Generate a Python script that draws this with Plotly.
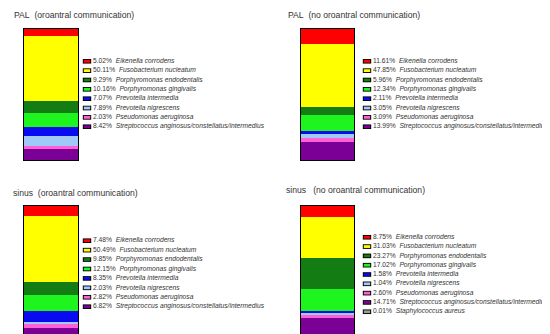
import plotly.graph_objects as go

W, H = 550, 334

species = ["Eikenella corrodens", "Fusobacterium nucleatum", "Porphyromonas endodentalis",
           "Porphyromonas gingivalis", "Prevotella intermedia", "Prevotella nigrescens",
           "Pseudomonas aeruginosa", "Streptococcus anginosus/constellatus/intermedius",
           "Staphylococcus aureus"]
colors = ["#FF0000", "#FFFF00", "#137D13", "#1EF51E", "#0A0AF0", "#A0C8F8",
          "#FF5FD7", "#7A0096", "#9A9A9A"]

titles = ["PAL\u00a0\u00a0(oroantral communication)",
          "PAL\u00a0\u00a0(no oroantral communication)",
          "sinus\u00a0\u00a0(oroantral communication)",
          "sinus\u00a0\u00a0\u00a0(no oroantral communication)"]

pal_oac = [5.02, 50.11, 9.29, 10.16, 7.07, 7.89, 2.03, 8.42]
pal_no = [11.61, 47.85, 5.96, 12.34, 2.11, 3.05, 3.09, 13.99]
sinus_oac = [7.48, 50.49, 9.85, 12.15, 8.35, 2.03, 2.82, 6.82]
sinus_no = [8.75, 31.03, 23.27, 17.02, 1.58, 1.04, 2.60, 14.71, 0.01]

panels = [pal_oac, pal_no, sinus_oac, sinus_no]

# layout geometry in pixels
bar_x = [(16, 70), (293, 346), (16, 70), (293, 346)]
bar_y = [(21, 152), (21, 152), (198, 329), (198, 329)]
leg_x = [(75, 275), (355, 550), (75, 275), (355, 550)]
leg_y = [(48.6, 123.4), (48.6, 123.4), (228.0, 303.4), (224.6, 308.4)]
title_pos = [(4, 7), (278, 7), (3, 185), (276, 182)]

FONT = "Liberation Sans, Arial, sans-serif"
TXT = "#333333"

fig = go.Figure()
layout = {}


def xd(a, b):
    return [a / W, b / W]


def yd(a, b):
    return [1 - b / H, 1 - a / H]


for i, vals in enumerate(panels):
    n = len(vals)
    bx = "x" if i == 0 else f"x{2 * i + 1}"
    by = "y" if i == 0 else f"y{2 * i + 1}"
    lx = f"x{2 * i + 2}"
    ly = f"y{2 * i + 2}"
    bxk = "xaxis" if i == 0 else f"xaxis{2 * i + 1}"
    byk = "yaxis" if i == 0 else f"yaxis{2 * i + 1}"
    lxk = f"xaxis{2 * i + 2}"
    lyk = f"yaxis{2 * i + 2}"

    # stacked bar: last legend item at bottom
    for j in reversed(range(n)):
        fig.add_trace(go.Bar(x=[titles[i]], y=[vals[j]], marker=dict(color=colors[j], line=dict(width=0)),
                             xaxis=bx, yaxis=by, showlegend=False, hoverinfo="skip"))

    layout[bxk] = dict(domain=xd(*bar_x[i]), range=[-0.5, 0.5], showticklabels=False, ticks="",
                       showgrid=False, zeroline=False, showline=True, mirror=True,
                       linecolor="#000000", linewidth=1, anchor=by, fixedrange=True)
    layout[byk] = dict(domain=yd(*bar_y[i]), range=[0, 100], showticklabels=False, ticks="",
                       showgrid=False, zeroline=False, showline=True, mirror=True,
                       linecolor="#000000", linewidth=1, anchor=bx, fixedrange=True)

    # legend
    rows = list(range(n))
    labels = [f"{vals[j]:.2f}%\u00a0\u00a0<i>{species[j]}</i>" for j in rows]
    fig.add_trace(go.Scatter(x=[4] * n, y=rows, mode="markers", cliponaxis=False,
                             marker=dict(symbol="line-ew", size=6.0, color="#000000",
                                         line=dict(width=4.6, color="#000000")),
                             xaxis=lx, yaxis=ly, showlegend=False, hoverinfo="skip"))
    fig.add_trace(go.Scatter(x=[4] * n, y=rows, mode="markers", cliponaxis=False,
                             marker=dict(symbol="line-ew", size=4.6, color=colors[:n],
                                         line=dict(width=2.8, color=colors[:n])),
                             xaxis=lx, yaxis=ly, showlegend=False, hoverinfo="skip"))
    fig.add_trace(go.Scatter(x=[10] * n, y=rows, mode="text", text=labels, cliponaxis=False,
                             textposition="middle right",
                             textfont=dict(family=FONT, size=6.7, color=TXT),
                             xaxis=lx, yaxis=ly, showlegend=False, hoverinfo="skip"))
    lw = leg_x[i][1] - leg_x[i][0]
    layout[lxk] = dict(domain=xd(*leg_x[i]), range=[0, lw], visible=False, anchor=ly, fixedrange=True)
    layout[lyk] = dict(domain=yd(*leg_y[i]), range=[n - 0.5, -0.5], visible=False, anchor=lx,
                       fixedrange=True)

annotations = []
for i, t in enumerate(titles):
    px, py = title_pos[i]
    annotations.append(dict(text=t, x=px / W, y=1 - py / H, xref="paper", yref="paper",
                            xanchor="left", yanchor="middle", showarrow=False,
                            font=dict(family=FONT, size=8.6, color=TXT)))

fig.update_layout(width=W, height=H, margin=dict(l=0, r=0, t=0, b=0),
                  paper_bgcolor="#FFFFFF", plot_bgcolor="#FFFFFF",
                  barmode="stack", bargap=0, showlegend=False,
                  annotations=annotations, **layout)

fig.write_html("out.html", config={"displayModeBar": False})
